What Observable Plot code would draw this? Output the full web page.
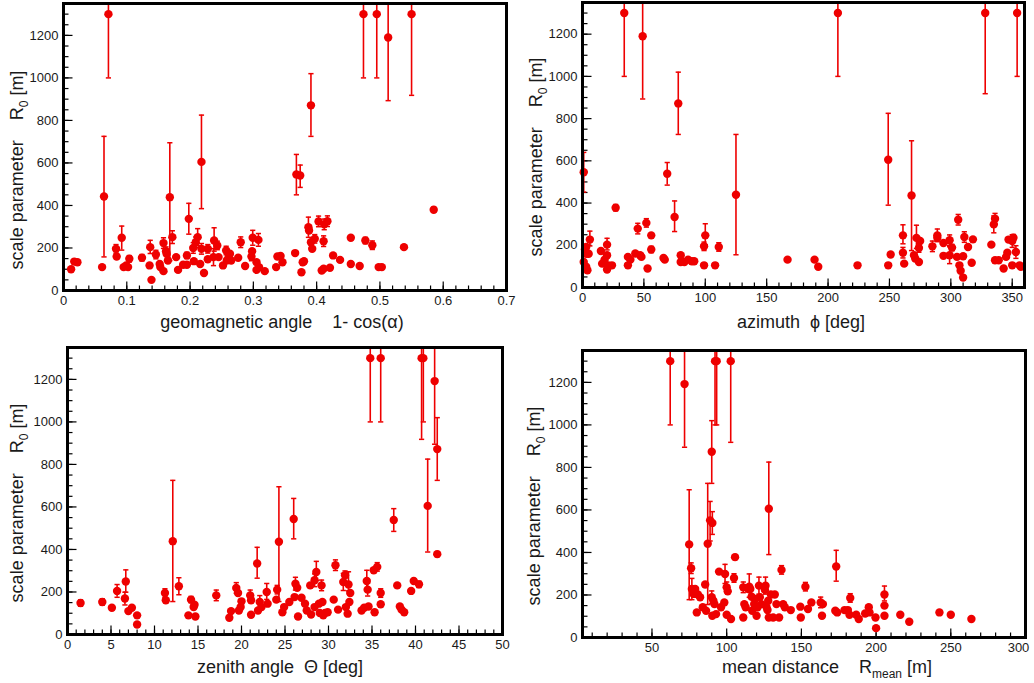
<!DOCTYPE html>
<html>
<head>
<meta charset="utf-8">
<script src="https://cdn.jsdelivr.net/npm/d3@7"></script>
<script src="https://cdn.jsdelivr.net/npm/@observablehq/plot@0.6"></script>
<style>
  body { margin: 0; background: #fff; }
  #wrap { position: relative; width: 1034px; height: 683px; overflow: hidden; background: #fff; }
</style>
</head>
<body>
<div id="wrap"></div>
<script>
// ---------------- DATA ----------------
// shared y axis
const yTicks = [0, 200, 400, 600, 800, 1000, 1200];
const yTickLabels = ["0", "200", "400", "600", "800", "1000", "1200"];

// Panel 1: geomagnetic angle 1 - cos(alpha)
const geoTicks = [0, 0.1, 0.2, 0.3, 0.4, 0.5, 0.6, 0.7];
const geoTickLabels = ["0", "0.1", "0.2", "0.3", "0.4", "0.5", "0.6", "0.7"];
const geoX = [0.012,0.017,0.022,0.061,0.064,0.071,0.083,0.084,0.092,0.095,
  0.099,0.102,0.104,0.124,0.137,0.136,0.139,0.146,0.152,0.153,
  0.158,0.158,0.162,0.163,0.168,0.165,0.172,0.178,0.181,0.189,
  0.195,0.195,0.198,0.205,0.206,0.209,0.212,0.216,0.218,0.218,
  0.222,0.228,0.228,0.237,0.238,0.243,0.245,0.252,0.257,0.258,
  0.261,0.263,0.265,0.276,0.280,0.287,0.297,0.298,0.299,0.305,
  0.305,0.308,0.309,0.318,0.336,0.338,0.343,0.346,0.366,0.368,
  0.374,0.378,0.380,0.376,0.387,0.388,0.391,0.391,0.393,0.397,
  0.403,0.408,0.411,0.411,0.412,0.417,0.421,0.426,0.437,0.454,
  0.454,0.468,0.474,0.477,0.488,0.495,0.498,0.503,0.513,0.538,
  0.550,0.585];
const geoR0 = [100,136,133,110,442,1300,196,160,248,110,
  118,110,149,154,204,118,50,169,125,110,
  223,91,185,173,439,141,251,157,97,121,
  121,165,337,200,138,227,251,125,605,196,
  82,196,147,157,235,212,157,118,188,141,
  157,173,141,154,227,115,160,185,248,133,
  97,238,110,91,110,160,162,133,176,546,
  541,133,138,86,298,282,871,227,196,243,
  325,94,102,232,311,326,107,165,144,125,
  248,115,1300,235,213,1300,110,110,1190,204,
  1300,380];
const geoErrDown = [0,0,0,0,284,300,20,0,58,0,
  0,0,15,15,30,0,0,20,0,0,
  25,0,20,0,299,0,30,0,0,0,
  0,15,72,25,0,25,40,0,220,25,
  0,20,0,40,50,20,0,0,20,0,
  0,0,0,0,25,0,20,0,35,0,
  0,30,0,0,0,0,0,0,0,96,
  56,0,0,0,48,0,146,0,0,20,
  25,0,0,25,25,25,0,0,0,0,
  0,0,300,15,20,300,0,0,297,0,
  382,12];
const geoErrUp = [0,0,0,0,283,200,20,0,55,0,
  0,0,15,15,32,0,0,20,0,0,
  25,0,20,0,256,0,30,0,0,0,
  0,15,73,25,0,25,40,0,220,25,
  0,20,0,40,60,20,0,0,20,0,
  0,0,0,0,25,0,20,0,35,0,
  0,30,0,0,0,0,0,0,0,94,
  49,0,0,0,47,0,149,0,0,20,
  25,0,0,25,25,25,0,0,0,0,
  0,0,200,15,20,200,0,0,200,0,
  200,12];

// Panel 2: azimuth phi [deg]
const aziTicks = [0, 50, 100, 150, 200, 250, 300, 350];
const aziTickLabels = ["0", "50", "100", "150", "200", "250", "300", "350"];
const aziX = [1,1,2,3,3,4,3,5,6,15,
  16,18,20,20,20,21,24,27,34,37,
  37,39,43,45,47,48,49,52,53,56,
  56,66,67,69,75,78,80,80,83,86,
  89,91,99,99,100,108,111,125,167,189,
  192,208,224,249,249,251,261,261,262,268,
  270,271,272,274,274,275,285,289,289,294,
  294,299,299,301,305,306,307,308,310,310,
  311,314,317,318,328,333,335,336,336,339,
  343,345,346,347,350,350,351,353,354,356,
  357];
const aziR0 = [546,121,180,192,98,82,160,160,227,173,
  113,132,203,153,85,105,105,378,1300,105,
  145,132,161,279,153,145,1190,306,90,247,
  180,140,132,539,334,872,153,121,121,132,
  124,124,195,105,247,105,192,439,132,132,
  98,1300,105,605,105,156,247,165,113,436,
  153,137,235,121,187,220,195,236,247,150,
  211,224,153,189,145,321,105,79,148,47,
  239,192,117,228,1300,203,299,326,129,129,
  90,145,165,227,220,105,236,168,1300,105,
  98];
const aziErrDown = [94,0,0,0,0,0,0,0,30,0,
  0,0,25,0,0,0,0,15,300,0,
  0,0,0,25,0,0,297,20,0,0,
  15,0,0,54,69,147,0,0,0,0,
  0,0,20,0,45,0,20,284,0,0,
  0,300,0,215,0,0,40,25,0,261,
  0,0,50,0,20,0,25,0,30,0,
  0,25,40,15,0,25,0,0,0,0,
  25,0,0,0,382,0,40,25,0,0,
  0,0,0,0,30,0,15,30,300,0,
  0];
const aziErrUp = [94,0,0,0,0,0,0,0,40,0,
  0,0,30,0,0,0,0,15,200,0,
  0,0,0,25,0,0,200,20,0,0,
  15,0,0,53,76,148,0,0,0,0,
  0,0,20,0,55,0,20,286,0,0,
  0,200,0,220,0,0,50,25,0,259,
  0,0,60,0,20,0,25,0,30,0,
  0,25,40,15,0,25,0,0,0,0,
  25,0,0,0,200,0,40,25,0,0,
  0,0,0,0,30,0,15,30,200,0,
  0];

// Panel 3: zenith angle Theta [deg]
const zenTicks = [0, 5, 10, 15, 20, 25, 30, 35, 40, 45, 50];
const zenTickLabels = ["0", "5", "10", "15", "20", "25", "30", "35", "40", "45", "50"];
const zenX = [1.5,4.0,5.1,5.7,6.6,6.7,7.0,7.4,8.0,8.0,
  11.2,11.3,12.1,12.8,13.9,14.2,14.5,14.6,14.7,17.1,
  18.6,18.8,19.4,19.6,19.7,19.9,20.0,21.0,21.1,21.1,
  21.8,21.9,22.1,22.3,22.9,23.0,24.0,24.1,24.3,24.7,
  24.9,25.5,26.0,26.1,26.2,26.4,26.5,26.9,27.3,27.5,
  27.9,28.0,28.4,28.4,28.6,28.9,29.0,29.2,29.3,29.4,
  29.6,29.9,30.6,30.8,31.1,31.7,31.9,32.0,32.2,32.3,
  32.4,32.5,33.8,34.1,34.4,34.5,34.6,34.8,35.2,35.3,
  35.6,36.0,36.0,36.0,37.5,37.9,38.2,38.4,38.7,39.5,
  39.8,40.4,40.7,40.9,41.4,42.2,42.5,42.5];
const zenR0 = [148,153,126,205,169,249,110,126,90,47,
  195,161,439,227,90,164,129,140,85,184,
  79,110,219,195,113,129,156,184,93,161,
  334,113,153,129,200,145,164,211,436,105,
  129,153,543,176,239,220,85,173,145,113,
  231,94,129,255,294,145,101,231,153,90,
  101,105,164,326,117,247,279,129,98,235,
  153,195,113,126,252,211,132,1300,302,105,
  318,195,142,1300,539,231,132,117,105,205,
  252,236,1300,1300,605,1192,872,378];
const zenErrDown = [15,15,0,30,30,50,0,0,0,0,
  20,0,284,40,0,15,0,0,0,25,
  0,0,25,0,0,0,0,25,0,0,
  69,0,30,0,35,0,0,20,281,0,
  0,0,93,0,30,0,0,0,0,0,
  0,0,0,30,40,0,0,25,0,0,
  0,0,0,25,0,40,40,0,0,30,
  0,0,0,0,45,30,0,300,0,0,
  20,20,0,300,54,0,0,0,0,0,
  0,15,382,300,217,297,147,12];
const zenErrUp = [15,15,0,30,30,55,0,0,0,0,
  20,0,286,40,0,15,0,0,0,25,
  0,0,25,0,0,0,0,25,0,0,
  76,0,30,0,40,0,0,20,259,0,
  0,0,97,0,30,0,0,0,0,0,
  0,0,0,30,50,0,0,25,0,0,
  0,0,0,25,0,40,20,0,0,60,
  0,0,0,0,50,30,0,200,0,0,
  20,20,0,200,53,0,0,0,0,0,
  0,15,200,200,220,200,148,12];

// Panel 4: mean distance R_mean [m]
const distTicks = [50, 100, 150, 200, 250, 300];
const distTickLabels = ["50", "100", "150", "200", "250", "300"];
const distX = [62.2,71.8,74.9,76.2,76.7,77.8,78.9,80.0,80.7,82.2,
  84.0,85.6,86.2,87.3,88.9,90.0,90.4,90.0,91.1,90.4,
  92.2,93.3,91.8,92.9,94.9,96.2,98.4,98.9,100.0,100.0,
  100.7,102.9,102.7,104.9,105.6,111.1,111.1,111.8,112.7,114.4,
  115.1,115.8,116.7,117.1,118.4,118.9,120.0,120.7,121.6,122.2,
  123.3,125.6,126.0,126.7,127.3,127.8,128.2,128.2,129.6,131.1,
  132.2,133.3,135.1,136.7,137.8,138.9,142.9,149.3,149.6,152.7,
  154.4,156.7,162.9,163.8,164.4,172.7,173.3,174.0,178.9,181.1,
  182.2,182.7,186.7,188.4,192.7,195.1,195.6,199.6,200.0,205.6,
  205.6,205.6,216.2,222.2,242.4,250.0,263.8];
const distR0 = [1300,1192,438,326,228,205,228,118,202,189,
  142,249,126,441,551,874,539,189,173,102,
  1300,1300,157,110,310,142,165,299,236,107,
  217,87,1300,280,378,236,94,157,142,228,
  239,228,192,126,157,181,102,142,244,189,
  157,224,244,142,129,173,606,94,202,94,
  202,157,94,318,157,142,129,145,94,239,
  134,165,165,102,157,126,334,118,129,129,
  107,186,107,87,113,142,118,94,44,202,
  150,102,107,74,118,107,87];
const distErrDown = [300,297,260,25,50,0,0,0,0,0,
  0,0,0,286,97,149,54,30,0,0,
  300,300,0,0,0,0,0,45,25,0,
  0,0,382,20,12,25,0,0,0,0,
  50,0,0,0,0,0,0,0,40,0,
  0,0,40,0,0,0,216,0,0,0,
  0,0,0,20,0,0,0,0,0,20,
  0,0,25,0,0,0,69,0,0,0,
  0,20,0,0,0,0,0,0,0,30,
  0,0,0,0,0,0,0];
const distErrUp = [200,200,257,25,50,0,0,0,0,0,
  0,0,0,284,89,146,53,30,0,0,
  200,200,0,0,0,0,0,45,25,0,
  0,0,200,20,12,25,0,0,0,0,
  60,0,0,0,0,0,0,0,40,0,
  0,0,40,0,0,0,219,0,0,0,
  0,0,0,20,0,0,0,0,0,20,
  0,0,25,0,0,0,76,0,0,0,
  0,20,0,0,0,0,0,0,0,40,
  0,0,0,0,0,0,0];

// ---------------- DRAWING ----------------
const RED = "#ee0000";
const INK = "#1a1a1a";
const FONT = "'Liberation Sans', Arial, Helvetica, sans-serif";

const vTick = len => ({draw(ctx) { ctx.moveTo(0, 0); ctx.lineTo(0, -len); }});
const hTick = len => ({draw(ctx) { ctx.moveTo(0, 0); ctx.lineTo(len, 0); }});
const cap = {draw(ctx) { ctx.moveTo(-2.6, 0); ctx.lineTo(2.6, 0); }};

function panel(cfg) {
  const rows = cfg.x.map((x, i) => ({
    x, y: cfg.y[i], lo: cfg.y[i] - cfg.dn[i], hi: cfg.y[i] + cfg.up[i], e: cfg.dn[i] + cfg.up[i] > 0
  }));
  const err = rows.filter(d => d.e);
  const x0 = cfg.xDomain[0];
  const yMinor = d3.range(0, 1351, 50);
  const fmtX = d => cfg.xLabels[cfg.xTicks.indexOf(d)];
  const nShift = cfg.lastDx ? 1 : 0;
  const mainTicks = cfg.xTicks.slice(0, cfg.xTicks.length - nShift);
  const axisMarks = [
    Plot.axisX(mainTicks, {anchor: "bottom", tickSize: 0, tickPadding: 5, fontSize: 13, label: null, tickFormat: fmtX})
  ];
  if (nShift) {
    axisMarks.push(Plot.axisX(cfg.xTicks.slice(-1), {anchor: "bottom", tickSize: 0, tickPadding: 5, fontSize: 13,
      label: null, tickFormat: fmtX, dx: cfg.lastDx}));
  }
  const plot = Plot.plot({
    width: cfg.w, height: cfg.h,
    marginLeft: cfg.m[0], marginRight: cfg.m[1], marginTop: cfg.m[2], marginBottom: cfg.m[3],
    x: {domain: cfg.xDomain, axis: null},
    y: {domain: [0, 1350], axis: null},
    style: {fontFamily: FONT, color: INK, background: "white", overflow: "visible"},
    marks: [
      ...axisMarks,
      Plot.axisY(yTicks, {anchor: "left", tickSize: 0, tickPadding: 5, fontSize: 13, label: null,
        tickFormat: d => yTickLabels[yTicks.indexOf(d)]}),
      Plot.dot(cfg.xMinor, {x: d => d, y: () => 0, symbol: vTick(5), stroke: "#000", strokeWidth: 1.2, fill: "none"}),
      Plot.dot(cfg.xTicks, {x: d => d, y: () => 0, symbol: vTick(9), stroke: "#000", strokeWidth: 1.2, fill: "none"}),
      Plot.dot(yMinor, {x: () => x0, y: d => d, symbol: hTick(5), stroke: "#000", strokeWidth: 1.2, fill: "none"}),
      Plot.dot(yTicks, {x: () => x0, y: d => d, symbol: hTick(9), stroke: "#000", strokeWidth: 1.2, fill: "none"}),
      Plot.ruleX(err, {x: "x", y1: "lo", y2: "hi", stroke: RED, strokeWidth: 1.6, clip: true}),
      Plot.dot(err, {x: "x", y: "lo", symbol: cap, stroke: RED, strokeWidth: 1.5, fill: "none", clip: true}),
      Plot.dot(err, {x: "x", y: "hi", symbol: cap, stroke: RED, strokeWidth: 1.5, fill: "none", clip: true}),
      Plot.dot(rows, {x: "x", y: "y", r: 4.2, fill: RED}),
      Plot.frame({stroke: "#000", strokeWidth: 3})
    ]
  });
  plot.style.position = "absolute";
  plot.style.left = cfg.left + "px";
  plot.style.top = cfg.top + "px";
  plot.style.maxWidth = "none";

  const svg = d3.select(plot);
  // y title
  const yt = svg.append("text")
    .attr("transform", `translate(${cfg.yTitlePos[0]},${cfg.yTitlePos[1]}) rotate(-90)`)
    .attr("text-anchor", "middle").attr("font-size", 18).attr("fill", INK)
    .attr("font-family", FONT).style("white-space", "pre");
  yt.append("tspan").text("scale parameter    R");
  yt.append("tspan").attr("font-size", 12).attr("dy", 5).text("0");
  yt.append("tspan").attr("dy", -5).text(" [m]");
  // x title
  const xt = svg.append("text")
    .attr("x", cfg.xTitlePos[0]).attr("y", cfg.xTitlePos[1])
    .attr("text-anchor", "middle").attr("font-size", 18).attr("fill", INK)
    .attr("font-family", FONT).style("white-space", "pre");
  cfg.xTitle.forEach(p => {
    const ts = xt.append("tspan").text(p.t);
    if (p.sub) ts.attr("font-size", 12).attr("dy", 5);
    else if (p.after) ts.attr("dy", -5);
  });
  document.getElementById("wrap").appendChild(plot);
}

panel({
  left: 0, top: 0, w: 517, h: 341, m: [63, 11, 3, 51],
  xDomain: [0, 0.7], xTicks: geoTicks, xLabels: geoTickLabels, xMinor: d3.range(0, 0.7001, 0.02),
  x: geoX, y: geoR0, dn: geoErrDown, up: geoErrUp,
  yTitlePos: [23, 170], xTitlePos: [282, 328],
  xTitle: [{t: "geomagnetic angle    1- cos(α)"}]
});
panel({
  left: 517, top: 0, w: 517, h: 341, m: [65, 10, 2, 54],
  xDomain: [0, 360], xTicks: aziTicks, xLabels: aziTickLabels, xMinor: d3.range(0, 361, 10),
  x: aziX, y: aziR0, dn: aziErrDown, up: aziErrUp,
  yTitlePos: [25, 157], xTitlePos: [284, 328],
  xTitle: [{t: "azimuth  ϕ [deg]"}]
});
panel({
  left: 0, top: 341, w: 517, h: 342, m: [67, 15, 6, 49],
  xDomain: [0, 50], xTicks: zenTicks, xLabels: zenTickLabels, xMinor: d3.range(0, 50.01, 1),
  x: zenX, y: zenR0, dn: zenErrDown, up: zenErrUp,
  yTitlePos: [23, 162], xTitlePos: [280, 332],
  xTitle: [{t: "zenith angle  Θ [deg]"}]
});
panel({
  left: 517, top: 341, w: 517, h: 342, m: [65, 9, 9, 46],
  xDomain: [3.5, 300], xTicks: distTicks, xLabels: distTickLabels, xMinor: d3.range(10, 301, 10),
  x: distX, y: distR0, dn: distErrDown, up: distErrUp,
  yTitlePos: [23, 165], xTitlePos: [310, 332], lastDx: -7,
  xTitle: [{t: "mean distance    R"}, {t: "mean", sub: true}, {t: " [m]", after: true}]
});
</script>
</body>
</html>
